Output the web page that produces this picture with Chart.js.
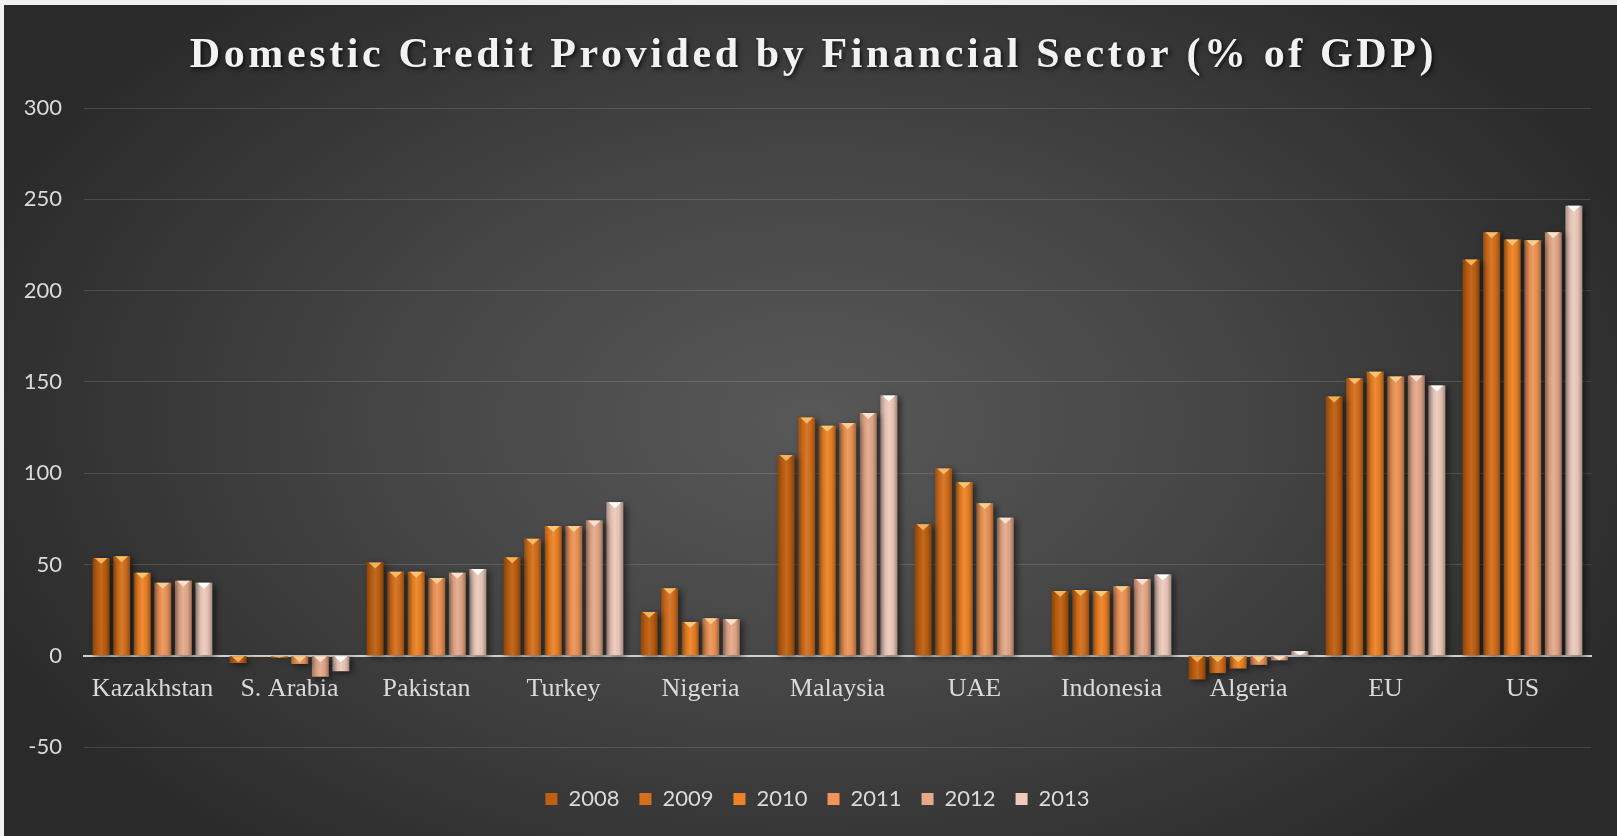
<!DOCTYPE html>
<html>
<head>
<meta charset="utf-8">
<title>Domestic Credit Provided by Financial Sector</title>
<script src="https://cdn.jsdelivr.net/npm/chart.js@4.4.1/dist/chart.umd.min.js"></script>
<style>
  body { margin: 0; background: #f0f0f0; }
  #wrap { position: absolute; left: 4px; top: 5px; }
</style>
</head>
<body>
<div id="wrap"><canvas id="credit-chart" width="1613" height="831"></canvas></div>
<script>
// domestic credit by financial sector, % of GDP
const countries = ['Kazakhstan', 'S. Arabia', 'Pakistan', 'Turkey', 'Nigeria', 'Malaysia', 'UAE', 'Indonesia', 'Algeria', 'EU', 'US'];
const years = ['2008', '2009', '2010', '2011', '2012', '2013'];
const credit2008 = [53.5, -4, 51, 54, 24, 110, 72, 35.5, -13, 142, 217];
const credit2009 = [54.5, -0.2, 46, 64, 37, 130.5, 102.5, 36, -9.5, 152, 232];
const credit2010 = [45.5, -1, 46, 71, 18.5, 126, 95, 35.5, -7, 155.5, 228];
const credit2011 = [40, -4.5, 42.5, 71, 20.5, 127.5, 83.5, 38, -5, 153, 227.5];
const credit2012 = [41, -11.5, 45.5, 74, 20, 133, 75.5, 42, -2.5, 153.5, 232];
const credit2013 = [40, -8.5, 47.5, 84, null, 142.5, null, 44.5, 2.5, 148, 246.5];
const yTicks = [-50, 0, 50, 100, 150, 200, 250, 300];

const titleText = 'Domestic Credit Provided by Financial Sector (% of GDP)';
const barColors = ['#bf5f10', '#d56f1c', '#ee8325', '#ee9557', '#e6aa8b', '#eecbbc'];
const capColors = ['#f2b25c', '#f6bd68', '#f8c674', '#f8cf92', '#fbe2cf', '#ffffff'];

const seriesValues = [credit2008, credit2009, credit2010, credit2011, credit2012, credit2013];

// dark radial backdrop behind the whole chart
const backdrop = {
    id: 'backdrop',
    beforeDraw(chart) {
        const ctx = chart.ctx;
        const w = chart.width, h = chart.height;
        ctx.save();
        ctx.fillStyle = '#2a2a2a';
        ctx.fillRect(0, 0, w, h);
        ctx.translate(w / 2, h / 2);
        ctx.scale(1, 0.62);
        const g = ctx.createRadialGradient(0, 0, 0, 0, 0, w * 0.56);
        g.addColorStop(0, '#585858');
        g.addColorStop(0.45, '#464646');
        g.addColorStop(1, '#2a2a2a');
        ctx.fillStyle = g;
        ctx.fillRect(-w, -h / 0.62, w * 2, h * 2 / 0.62);
        ctx.restore();
    }
};

// drop shadow under bars, then side shading and bevel caps on top
const barShading = {
    id: 'barShading',
    beforeDatasetsDraw(chart) {
        const ctx = chart.ctx;
        ctx.save();
        ctx.shadowColor = 'rgba(0,0,0,0.55)';
        ctx.shadowBlur = 6;
        ctx.shadowOffsetX = 3;
        ctx.shadowOffsetY = 2;
    },
    afterDatasetsDraw(chart) {
        const ctx = chart.ctx;
        ctx.restore();
        ctx.save();
        chart.data.datasets.forEach((ds, di) => {
            const meta = chart.getDatasetMeta(di);
            meta.data.forEach((bar, i) => {
                if (ds.data[i] === null) return;
                const { x, y, base, width } = bar.getProps(['x', 'y', 'base', 'width'], true);
                const left = x - width / 2;
                const top = Math.min(y, base);
                const h = Math.abs(base - y);
                const g = ctx.createLinearGradient(left, 0, left + width, 0);
                g.addColorStop(0, 'rgba(0,0,0,0.28)');
                g.addColorStop(0.3, 'rgba(0,0,0,0.04)');
                g.addColorStop(0.5, 'rgba(255,255,255,0.08)');
                g.addColorStop(0.75, 'rgba(0,0,0,0.05)');
                g.addColorStop(1, 'rgba(0,0,0,0.32)');
                ctx.fillStyle = g;
                ctx.fillRect(left, top, width, h);
                const capH = Math.min(6, h);
                ctx.fillStyle = capColors[di];
                ctx.beginPath();
                ctx.moveTo(left + 2, top);
                ctx.lineTo(left + width - 2, top);
                ctx.lineTo(x, top + capH);
                ctx.closePath();
                ctx.fill();
            });
        });
        ctx.restore();
    }
};

// spaced serif title with a soft shadow
const chartTitle = {
    id: 'chartTitle',
    afterDraw(chart) {
        const ctx = chart.ctx;
        ctx.save();
        ctx.font = 'bold 42px "Liberation Serif"';
        ctx.textAlign = 'center';
        ctx.textBaseline = 'alphabetic';
        const plain = ctx.measureText(titleText).width;
        if ('letterSpacing' in ctx) {
            ctx.letterSpacing = ((1244 - plain) / (titleText.length - 1)).toFixed(2) + 'px';
        }
        ctx.shadowColor = 'rgba(0,0,0,0.7)';
        ctx.shadowBlur = 4;
        ctx.shadowOffsetX = 2;
        ctx.shadowOffsetY = 2;
        ctx.fillStyle = '#f2f2f2';
        ctx.fillText(titleText, chart.width / 2 + 3, 62);
        ctx.restore();
    }
};

// legend sits a little lower and right of its default slot
const legendNudge = {
    id: 'legendNudge',
    afterLayout(chart) {
        const lg = chart.legend;
        lg.left += 20;
        lg.right += 20;
        lg.top += 21;
        lg.bottom += 21;
    }
};

const ctx = document.getElementById('credit-chart').getContext('2d');
new Chart(ctx, {
    type: 'bar',
    data: {
        labels: countries,
        datasets: years.map((yr, i) => ({
            label: yr,
            data: seriesValues[i],
            backgroundColor: barColors[i],
            borderWidth: 0,
            categoryPercentage: 0.9,
            barPercentage: 0.82
        }))
    },
    options: {
        responsive: false,
        animation: false,
        layout: {
            padding: { left: 0, right: 26, top: 103, bottom: 37 }
        },
        scales: {
            x: {
                position: { y: 0 },
                grid: { display: false, drawTicks: false },
                border: { display: true, color: '#cfcfcf', width: 2 },
                ticks: {
                    color: '#dadada',
                    padding: 18,
                    font: { family: '"Liberation Serif"', size: 26 }
                },
                afterFit(scale) { scale.height = 0; }
            },
            y: {
                min: -50,
                max: 300,
                afterBuildTicks(scale) {
                    scale.ticks = yTicks.map(v => ({ value: v }));
                },
                afterFit(scale) { scale.width = 80; },
                grid: { color: 'rgba(255,255,255,0.13)', drawTicks: false },
                border: { display: false },
                ticks: {
                    color: '#dadada',
                    padding: 22,
                    font: { family: 'Lato', size: 22 }
                }
            }
        },
        plugins: {
            title: { display: false },
            tooltip: { enabled: false },
            legend: {
                position: 'bottom',
                labels: {
                    color: '#dadada',
                    boxWidth: 12,
                    boxHeight: 12,
                    padding: 20,
                    font: { family: 'Lato', size: 22 }
                }
            }
        }
    },
    plugins: [backdrop, barShading, chartTitle, legendNudge]
});
</script>
</body>
</html>
